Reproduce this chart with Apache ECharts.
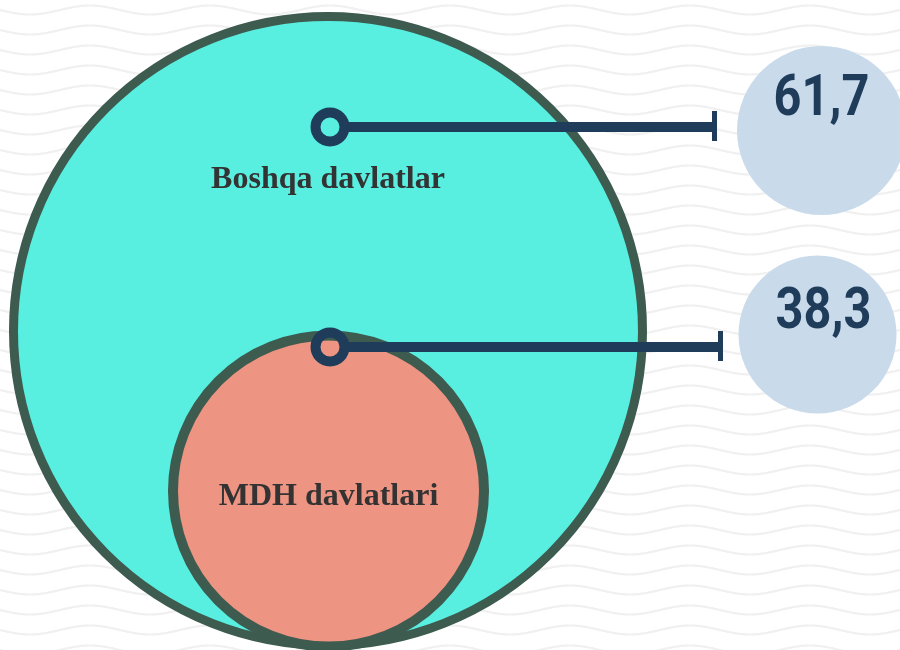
<!DOCTYPE html>
<html>
<head>
<meta charset="utf-8">
<script src="https://cdn.jsdelivr.net/npm/echarts@6/dist/echarts.min.js"></script>
<style>
  html, body { margin: 0; padding: 0; background: #ffffff; }
  #chart { width: 900px; height: 650px; }
</style>
</head>
<body>
<div id="chart"></div>
<script>
// data
const categories = ["Boshqa davlatlar", "MDH davlatlari"];
const values = [61.7, 38.3];

// layout (pixel space of the 900x650 canvas)
const circleCenters = [[328, 331], [328.5, 491]];
const circleSizes = [629, 311];
const circleColors = ["#58eee0", "#ee9482"];
const markerPoints = [[330, 127], [330, 347]];
const lineEnds = [715, 721];
const bubbleCenters = [[821.5, 130.5], [817.5, 334.5]];
const bubbleSizes = [169, 158];
const labelOffsets = [[0, -151], [0, 6]];
const valueOffsets = [[0, -30], [6, -21]];

const navy = "#1f3d5b";
const border = "#3e5b50";

// wavy background tile
function waveTile() {
  const c = document.createElement("canvas");
  c.width = 120;
  c.height = 20;
  const ctx = c.getContext("2d");
  ctx.strokeStyle = "#f0f0f0";
  ctx.lineWidth = 2.2;
  ctx.beginPath();
  for (let x = -2; x <= 122; x++) {
    const y = 10 + 4.5 * Math.sin((x / 120) * Math.PI * 2);
    if (x === -2) ctx.moveTo(x, y); else ctx.lineTo(x, y);
  }
  ctx.stroke();
  return c.toDataURL();
}
const el = document.getElementById("chart");
el.style.backgroundImage = "url(" + waveTile() + ")";

const fmt = (v) => v.toFixed(1).replace(".", ",");

const chart = echarts.init(el, null, { renderer: "canvas" });

const series = [];

// big / small circles with category names
series.push({
  type: "scatter",
  silent: true,
  z: 1,
  data: categories.map((name, i) => ({
    name: name,
    value: circleCenters[i],
    symbolSize: circleSizes[i],
    itemStyle: {
      color: circleColors[i],
      borderColor: border,
      borderWidth: i === 0 ? 9 : 10,
      opacity: 1
    },
    label: {
      show: true,
      position: "inside",
      offset: labelOffsets[i],
      formatter: name,
      fontFamily: "Liberation Serif",
      fontWeight: "bold",
      fontSize: 32,
      color: "#333333"
    }
  }))
});

// connector lines
markerPoints.forEach((p, i) => {
  series.push({
    type: "line",
    silent: true,
    z: 3,
    symbol: "none",
    lineStyle: { color: navy, width: 10 },
    data: [[p[0] + 10, p[1]], [lineEnds[i], p[1]]]
  });
});

// end ticks
series.push({
  type: "scatter",
  silent: true,
  z: 4,
  symbol: "rect",
  symbolSize: [5, 30],
  itemStyle: { color: navy, opacity: 1 },
  data: markerPoints.map((p, i) => [lineEnds[i] - 0.5, p[1] - 1])
});

// ring markers
series.push({
  type: "scatter",
  silent: true,
  z: 5,
  symbol: "circle",
  symbolSize: 29,
  itemStyle: { color: "rgba(0,0,0,0)", borderColor: navy, borderWidth: 10, opacity: 1 },
  data: markerPoints
});

// value bubbles
series.push({
  type: "scatter",
  silent: true,
  z: 6,
  data: values.map((v, i) => ({
    value: bubbleCenters[i],
    symbolSize: bubbleSizes[i],
    itemStyle: { color: "#c9dbeb", opacity: 1 }
  }))
});

// value numbers (condensed look)
series.push({
  type: "custom",
  silent: true,
  z: 7,
  data: values.map((v, i) => [bubbleCenters[i][0], bubbleCenters[i][1], v, valueOffsets[i][0], valueOffsets[i][1]]),
  renderItem: function (params, api) {
    const pt = api.coord([api.value(0), api.value(1)]);
    return {
      type: "text",
      x: pt[0] + api.value(3),
      y: pt[1] + api.value(4),
      scaleX: 0.84,
      style: {
        text: fmt(api.value(2)),
        font: "bold 58px Roboto, sans-serif",
        fill: navy,
        align: "center",
        verticalAlign: "middle"
      }
    };
  }
});

chart.setOption({
  backgroundColor: "transparent",
  animation: false,
  grid: { left: 0, right: 0, top: 0, bottom: 0 },
  xAxis: { type: "value", min: 0, max: 900, show: false },
  yAxis: { type: "value", min: 0, max: 650, inverse: true, show: false },
  series: series
});
</script>
</body>
</html>
